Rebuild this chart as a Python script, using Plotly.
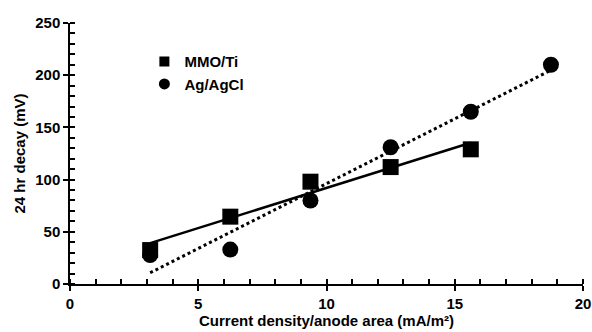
import numpy as np
import plotly.graph_objects as go

# Data
current_density = [3.125, 6.25, 9.375, 12.5, 15.625, 18.75]
mmo_ti = [32.5, 64.5, 98, 112, 129]          # first 5 densities
ag_agcl = [27.7, 33, 80, 131, 165, 210]       # all 6 densities

x_mmo = current_density[:5]
x_ag = current_density

# linear trendlines (least squares on the data above)
p_mmo = np.polyfit(x_mmo, mmo_ti, 1)
p_ag = np.polyfit(x_ag, ag_agcl, 1)
tx_mmo = [x_mmo[0], x_mmo[-1]]
tx_ag = [x_ag[0], x_ag[-1]]

FONT = "Liberation Sans"
fig = go.Figure()

fig.add_trace(go.Scatter(x=tx_mmo, y=list(np.polyval(p_mmo, tx_mmo)), mode="lines",
                         line=dict(color="black", width=2.5), showlegend=False, hoverinfo="skip"))
fig.add_trace(go.Scatter(x=tx_ag, y=list(np.polyval(p_ag, tx_ag)), mode="lines",
                         line=dict(color="black", width=3, dash="dot"), showlegend=False, hoverinfo="skip"))
fig.add_trace(go.Scatter(x=x_mmo, y=mmo_ti, mode="markers", name="MMO/Ti", showlegend=False,
                         marker=dict(symbol="square", size=16, color="black")))
fig.add_trace(go.Scatter(x=x_ag, y=ag_agcl, mode="markers", name="Ag/AgCl", showlegend=False,
                         marker=dict(symbol="circle", size=16, color="black")))
# legend entries (smaller symbols, as in the reference)
fig.add_trace(go.Scatter(x=[None], y=[None], mode="markers", name="MMO/Ti",
                         marker=dict(symbol="square", size=10, color="black")))
fig.add_trace(go.Scatter(x=[None], y=[None], mode="markers", name="Ag/AgCl",
                         marker=dict(symbol="circle", size=11, color="black")))
# invisible trace to activate overlay axes (for crossing major ticks)
fig.add_trace(go.Scatter(x=[0, 20], y=[0, 250], xaxis="x2", yaxis="y2", mode="markers",
                         marker=dict(opacity=0), showlegend=False, hoverinfo="skip"))

axis_common = dict(showgrid=False, zeroline=False, showline=True, linecolor="black", linewidth=1.5,
                   ticks="outside", ticklen=5, tickwidth=1.5, tickcolor="black", automargin=False,
                   tickfont=dict(family=FONT, size=15, color="black", weight="bold"))

fig.update_layout(
    width=592, height=332,
    margin=dict(l=70, r=9, t=23, b=48),
    paper_bgcolor="white", plot_bgcolor="white",
    font=dict(family=FONT, color="black"),
    xaxis=dict(range=[0, 20], dtick=5, tick0=0,
               minor=dict(dtick=1, ticks="inside", ticklen=5, tickwidth=1.5, tickcolor="black"),
               title=dict(text="Current density/anode area (mA/m²)",
                          font=dict(family=FONT, size=15, color="black", weight="bold"), standoff=5),
               **axis_common),
    yaxis=dict(range=[0, 250], dtick=50, tick0=0,
               minor=dict(dtick=10, ticks="inside", ticklen=5, tickwidth=1.5, tickcolor="black"),
               title=dict(text="24 hr decay (mV)",
                          font=dict(family=FONT, size=15, color="black", weight="bold"), standoff=6),
               **axis_common),
    xaxis2=dict(range=[0, 20], dtick=5, tick0=0, overlaying="x", anchor="y", side="bottom",
                showgrid=False, zeroline=False, showline=False, ticks="inside", ticklen=5,
                tickwidth=1.5, tickcolor="black", showticklabels=False, automargin=False),
    yaxis2=dict(range=[0, 250], dtick=50, tick0=0, overlaying="y", anchor="x", side="left",
                showgrid=False, zeroline=False, showline=False, ticks="inside", ticklen=5,
                tickwidth=1.5, tickcolor="black", showticklabels=False, automargin=False),
    legend=dict(x=0.145, y=0.915, xanchor="left", yanchor="top", bgcolor="rgba(0,0,0,0)",
                font=dict(family=FONT, size=15, color="black", weight="bold"),
                itemsizing="trace", tracegroupgap=0),
)

fig.write_html("out.html")
